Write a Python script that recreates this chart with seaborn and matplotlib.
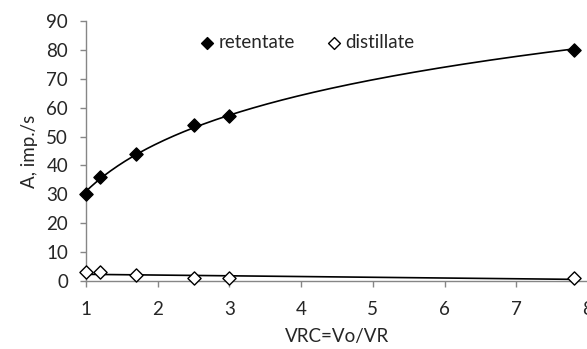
import numpy as np
import pandas as pd
import matplotlib
matplotlib.use("Agg")
import matplotlib.pyplot as plt
import seaborn as sns

# Data
vrc = [1.0, 1.2, 1.7, 2.5, 3.0, 7.8]
retentate = [30, 36, 44, 54, 57, 80]
distillate = [3, 3, 2, 1, 1, 1]
x_ticks = [1, 2, 3, 4, 5, 6, 7, 8]
y_ticks = [0, 10, 20, 30, 40, 50, 60, 70, 80, 90]

sns.set_style("white")
plt.rcParams['font.family'] = ['Lato', 'DejaVu Sans']

fig = plt.figure(figsize=(5.87, 3.49), dpi=100)
ax = fig.add_axes([86/587, 68/349, 502/587, 260/349])

df = pd.DataFrame({"VRC": vrc, "retentate": retentate, "distillate": distillate})

# Trend lines (fits from the data)
xs = np.linspace(min(vrc), max(vrc), 200)
a, b = np.polyfit(np.log(df["VRC"]), df["retentate"], 1)
m, c = np.polyfit(df["VRC"], df["distillate"], 1)
trend = pd.DataFrame({"x": xs, "ret": a*np.log(xs)+b, "dist": m*xs+c})
sns.lineplot(data=trend, x="x", y="ret", color="black", lw=1.2, ax=ax, legend=False)
sns.lineplot(data=trend, x="x", y="dist", color="black", lw=1.2, ax=ax, legend=False)

sns.scatterplot(data=df, x="VRC", y="retentate", marker="D", s=45, color="black",
                edgecolor="black", linewidth=1, ax=ax, label="retentate", zorder=3,
                clip_on=False)
sns.scatterplot(data=df, x="VRC", y="distillate", marker="D", s=45, color="white",
                edgecolor="black", linewidth=1, ax=ax, label="distillate", zorder=3,
                clip_on=False)

ax.set_xlim(1, 8)
ax.set_ylim(0, 90)
ax.set_xticks(x_ticks)
ax.set_yticks(y_ticks)
ax.set_xlabel("VRC=Vo/VR", fontsize=13.5)
ax.set_ylabel("A, imp./s", fontsize=13.5)
ax.xaxis.set_label_coords(0.5, -0.181)
ax.yaxis.set_label_coords(-0.095, 0.5)
ax.tick_params(axis="both", labelsize=13.5, length=4.3, width=1, color="#868686",
               direction="out", left=True, bottom=True)
ax.tick_params(axis="x", pad=10)
ax.tick_params(axis="y", pad=8.5)
for s in ["top", "right"]:
    ax.spines[s].set_visible(False)
for s in ["left", "bottom"]:
    ax.spines[s].set_color("#868686")
    ax.spines[s].set_linewidth(1)

leg = ax.legend(loc="center", bbox_to_anchor=(306/587, 1-42/349), bbox_transform=fig.transFigure,
                ncol=2, frameon=False, fontsize=13.5, handletextpad=0.1, handlelength=1.0,
                columnspacing=1.6, markerscale=0.9)

fig.savefig("out.png", dpi=100)
